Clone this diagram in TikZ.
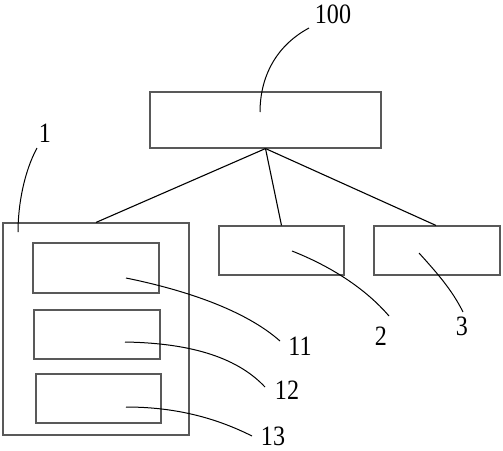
\documentclass[tikz,border=0pt]{standalone}
\usepackage{fontspec}
\setmainfont{Liberation Serif}
\newcommand{\lbltext}[1]{\scalebox{0.86}[1]{#1}}
\begin{document}
\begin{tikzpicture}[x=1pt,y=-1pt,
  box/.style={draw=black!65, line width=1.1pt, inner sep=0pt, fill=none},
  link/.style={draw=black, line width=1.1pt},
  lead/.style={draw=black, line width=1.0pt},
  lbl/.style={inner sep=0pt, font=\fontsize{28}{28}\selectfont}]
\useasboundingbox (0,0) rectangle (503,450);
% boxes
\node[box, minimum width=231pt, minimum height=56pt] (b100) at (265.5,120) {};
\node[box, minimum width=186pt, minimum height=212pt] (b1) at (96,329) {};
\node[box, minimum width=126pt, minimum height=50pt] (b11) at (96,268) {};
\node[box, minimum width=126pt, minimum height=49pt] (b12) at (97,334.5) {};
\node[box, minimum width=125pt, minimum height=49pt] (b13) at (98.5,398.5) {};
\node[box, minimum width=125pt, minimum height=49pt] (b2) at (281.5,250.5) {};
\node[box, minimum width=126pt, minimum height=49pt] (b3) at (437,250.5) {};
% connectors
\draw[link] (b100.south) -- (b1.north);
\draw[link] (b100.south) -- (b2.north);
\draw[link] (b100.south) -- ([xshift=-1pt]b3.north);
% labels
\node[lbl] (l100) at (333,14) {\lbltext{100}};
\node[lbl] (l1) at (45,133) {\lbltext{1}};
\node[lbl] (l11) at (300,346) {\lbltext{11}};
\node[lbl] (l12) at (287,390) {\lbltext{12}};
\node[lbl] (l13) at (273,436) {\lbltext{13}};
\node[lbl] (l2) at (381,336) {\lbltext{2}};
\node[lbl] (l3) at (462,326) {\lbltext{3}};
% leader end coordinates
\coordinate (e100) at (309,28);
\coordinate (s100) at (260,112);
\coordinate (e1) at (37,148);
\coordinate (s1) at (18,232);
\coordinate (s11) at (126,278);
\coordinate (e11) at (280,341);
\coordinate (s12) at (125,342);
\coordinate (e12) at (265,387);
\coordinate (s13) at (126,407);
\coordinate (e13) at (252,436);
\coordinate (s2) at (292,251);
\coordinate (e2) at (389,316);
\coordinate (s3) at (419,253);
\coordinate (e3) at (463,312);
% leaders
\draw[lead] (e100) .. controls (272,48) and (260,82) .. (s100);
\draw[lead] (e1) .. controls (24,172) and (18,205) .. (s1);
\draw[lead] (s11) .. controls (185,290) and (245,310) .. (e11);
\draw[lead] (s12) .. controls (185,343) and (235,355) .. (e12);
\draw[lead] (s13) .. controls (180,407) and (220,420) .. (e13);
\draw[lead] (s2) .. controls (330,266) and (365,288) .. (e2);
\draw[lead] (s3) .. controls (438,274) and (452,290) .. (e3);
\end{tikzpicture}
\end{document}
